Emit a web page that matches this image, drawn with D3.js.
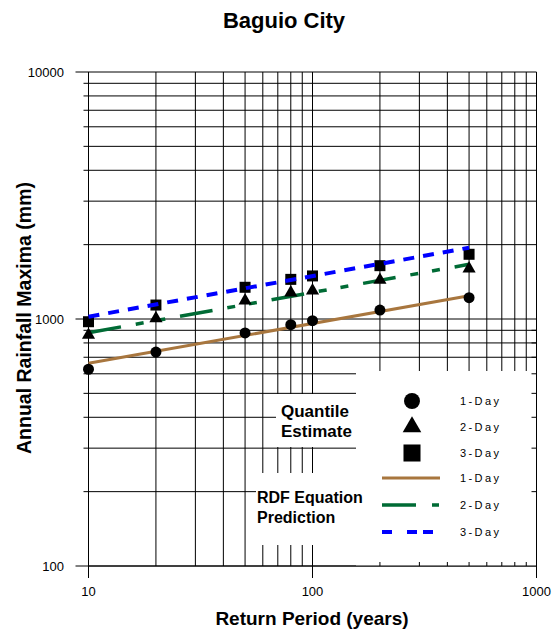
<!DOCTYPE html>
<html>
<head>
<meta charset="utf-8">
<script src="https://cdn.jsdelivr.net/npm/d3@7"></script>
<style>
  body { margin: 0; background: #fff; }
  svg { font-family: "Liberation Sans", Arial, sans-serif; }
</style>
</head>
<body>
<svg id="chart" width="552" height="636"></svg>
<script>
// quantile estimates
const returnPeriods = [10, 20, 50, 80, 100, 200, 500];
const oneDay = [626, 735, 878, 948, 984, 1087, 1220];
const twoDay = [861, 1006, 1186, 1278, 1302, 1438, 1598];
const threeDay = [975, 1139, 1344, 1447, 1494, 1644, 1828];

// RDF equation prediction lines (straight on log-log, end points)
const rdfPeriods = [10, 500];
const rdfOneDay = [662, 1243];
const rdfTwoDay = [880, 1665];
const rdfThreeDay = [1022, 1944];

const xMajor = [10, 100, 1000];
const yMajor = [100, 1000, 10000];
const dayLabels = ["1-Day", "2-Day", "3-Day"];

const svg = d3.select("#chart");
const plotLeft = 88.5, plotRight = 536.5, plotTop = 72, plotBottom = 566;

const x = d3.scaleLog().domain([10, 1000]).range([plotLeft, plotRight]);
const y = d3.scaleLog().domain([100, 10000]).range([plotBottom, plotTop]);

// grid
const grid = svg.append("g").attr("stroke", "#000").attr("stroke-width", 1);
grid.selectAll(".vgrid")
  .data(x.ticks())
  .enter().append("line")
  .attr("x1", d => x(d)).attr("x2", d => x(d))
  .attr("y1", plotTop).attr("y2", d => xMajor.includes(d) ? plotBottom + 12 : plotBottom);
grid.selectAll(".hgrid")
  .data(y.ticks())
  .enter().append("line")
  .attr("y1", d => y(d)).attr("y2", d => y(d))
  .attr("x1", d => yMajor.includes(d) ? plotLeft - 13 : plotLeft - 5).attr("x2", plotRight);

// white areas for the legend and its labels
const boxes = [
  [356, 371, 536, 566],
  [276, 394, 356, 447],
  [256, 473, 356, 545]
];
svg.selectAll(".box")
  .data(boxes)
  .enter().append("rect")
  .attr("x", d => d[0]).attr("y", d => d[1])
  .attr("width", d => d[2] - d[0]).attr("height", d => d[3] - d[1])
  .attr("fill", "#fff");

// frame with inward minor ticks
const frame = svg.append("g").attr("stroke", "#000").attr("stroke-width", 1);
frame.append("line").attr("x1", plotLeft).attr("x2", plotRight).attr("y1", plotBottom).attr("y2", plotBottom);
frame.append("line").attr("x1", plotRight).attr("x2", plotRight).attr("y1", plotTop).attr("y2", plotBottom);
frame.selectAll(".bt")
  .data(x.ticks().filter(d => d > 100 && d < 1000))
  .enter().append("line")
  .attr("x1", d => x(d)).attr("x2", d => x(d))
  .attr("y1", plotBottom - 4).attr("y2", plotBottom);
frame.selectAll(".rt")
  .data(y.ticks().filter(d => d > 100 && d < 1000))
  .enter().append("line")
  .attr("y1", d => y(d)).attr("y2", d => y(d))
  .attr("x1", plotRight - 5).attr("x2", plotRight);

// tick labels
svg.selectAll(".xl")
  .data(xMajor)
  .enter().append("text")
  .attr("x", d => x(d)).attr("y", 596)
  .attr("text-anchor", "middle")
  .attr("font-size", 13)
  .text(d => d);
svg.selectAll(".yl")
  .data(yMajor)
  .enter().append("text")
  .attr("x", 64).attr("y", d => y(d) + 5)
  .attr("text-anchor", "end")
  .attr("font-size", 13)
  .text(d => d);

// titles
svg.append("text")
  .attr("x", 284).attr("y", 28)
  .attr("text-anchor", "middle")
  .attr("font-size", 22).attr("font-weight", "bold")
  .text("Baguio City");
svg.append("text")
  .attr("x", 312).attr("y", 625)
  .attr("text-anchor", "middle")
  .attr("font-size", 19).attr("font-weight", "bold")
  .text("Return Period (years)");
svg.append("text")
  .attr("transform", "translate(31,318) rotate(-90)")
  .attr("text-anchor", "middle")
  .attr("font-size", 19.5).attr("font-weight", "bold")
  .text("Annual Rainfall Maxima (mm)");

// series styles
const lineStyles = [
  { values: rdfOneDay, color: "#a8763e", width: 3, dash: null },
  { values: rdfTwoDay, color: "#006b35", width: 3.5, dash: "33 15 8 14 8 15" },
  { values: rdfThreeDay, color: "#0000ff", width: 4, dash: "11 9" }
];
const markerSets = [
  { values: oneDay, type: d3.symbolCircle, size: 95, legendSize: 200 },
  { values: twoDay, type: d3.symbolTriangle, size: 75, legendSize: 150 },
  { values: threeDay, type: d3.symbolSquare, size: 121, legendSize: 290 }
];

const line = d3.line()
  .x((d, i) => x(rdfPeriods[i]))
  .y(d => y(d));

function drawLine(s) {
  svg.append("path")
    .attr("d", line(s.values))
    .attr("fill", "none")
    .attr("stroke", s.color)
    .attr("stroke-width", s.width)
    .attr("stroke-dasharray", s.dash);
}

function drawMarkers(m) {
  svg.append("g").selectAll("path")
    .data(m.values)
    .enter().append("path")
    .attr("transform", (d, i) => `translate(${x(returnPeriods[i])},${y(d)})`)
    .attr("d", d3.symbol().type(m.type).size(m.size))
    .attr("fill", "#000");
}

drawLine(lineStyles[0]);
drawLine(lineStyles[1]);
markerSets.forEach(drawMarkers);
drawLine(lineStyles[2]);

// legend
const legend = svg.append("g");
const markerRows = [401, 427, 453];
const lineRows = [478, 505, 532];

markerSets.forEach((m, i) => {
  legend.append("path")
    .attr("transform", `translate(412,${markerRows[i]})`)
    .attr("d", d3.symbol().type(m.type).size(m.legendSize))
    .attr("fill", "#000");
  legend.append("text")
    .attr("x", 460).attr("y", markerRows[i] + 4)
    .attr("font-size", 11).attr("letter-spacing", 2.4)
    .text(dayLabels[i]);
});
lineStyles.forEach((s, i) => {
  legend.append("line")
    .attr("x1", 382).attr("x2", 440)
    .attr("y1", lineRows[i]).attr("y2", lineRows[i])
    .attr("stroke", s.color)
    .attr("stroke-width", s.width)
    .attr("stroke-dasharray", i === 1 ? "34 16 7 100" : (i === 2 ? "10 15 10 6 10 100" : null));
  legend.append("text")
    .attr("x", 460).attr("y", lineRows[i] + 4)
    .attr("font-size", 11).attr("letter-spacing", 2.4)
    .text(dayLabels[i]);
});

svg.append("text")
  .attr("font-size", 17).attr("font-weight", "bold")
  .selectAll("tspan")
  .data(["Quantile", "Estimate"])
  .enter().append("tspan")
  .attr("x", 281).attr("y", (d, i) => 417 + i * 20)
  .text(d => d);
svg.append("text")
  .attr("font-size", 16).attr("font-weight", "bold")
  .selectAll("tspan")
  .data(["RDF Equation", "Prediction"])
  .enter().append("tspan")
  .attr("x", 257).attr("y", (d, i) => 503 + i * 20)
  .text(d => d);
</script>
</body>
</html>
